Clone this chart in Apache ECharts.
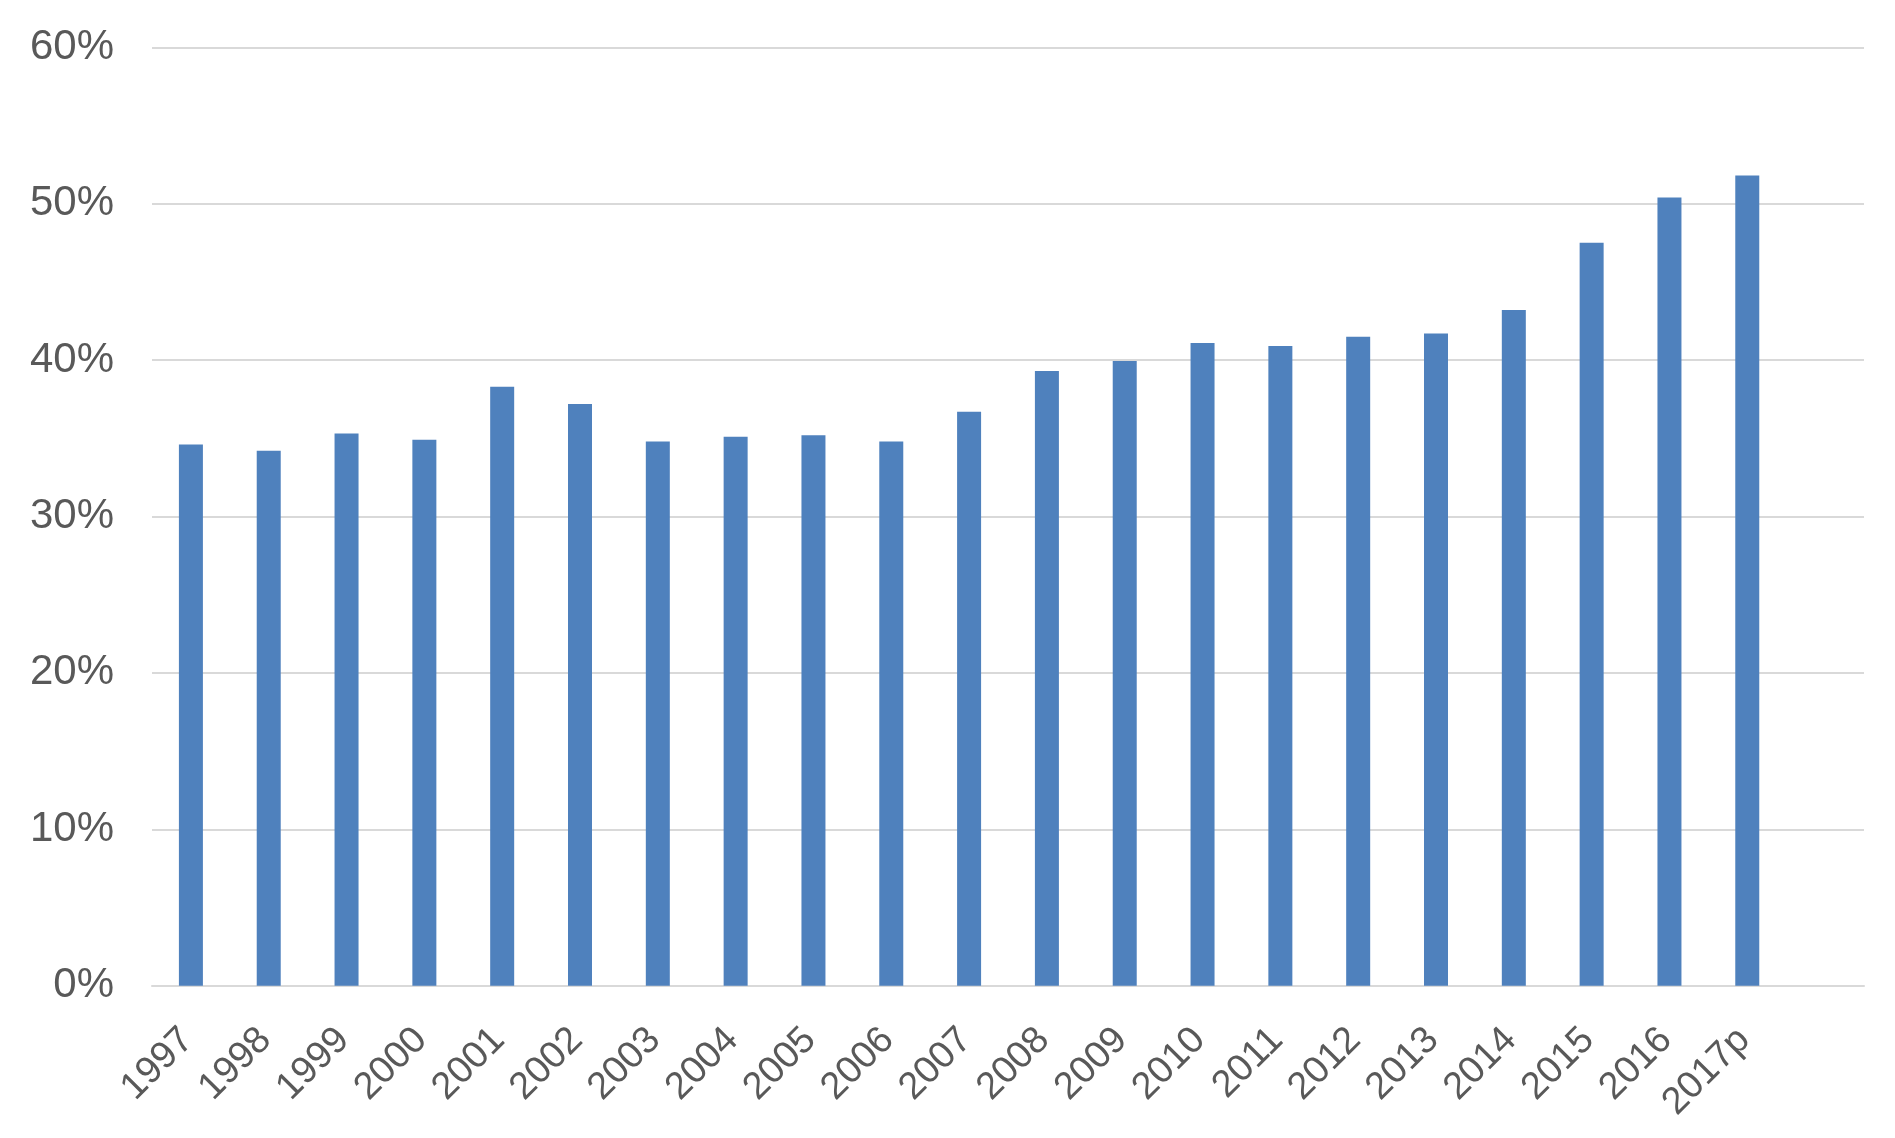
<!DOCTYPE html>
<html>
<head>
<meta charset="utf-8">
<script src="https://cdn.jsdelivr.net/npm/echarts@6/dist/echarts.min.js"></script>
<style>
html,body{margin:0;padding:0;background:#fff;}
#chart{width:1895px;height:1138px;}
</style>
</head>
<body>
<div id="chart"></div>
<script>
const years = ['1997','1998','1999','2000','2001','2002','2003','2004','2005','2006','2007','2008','2009','2010','2011','2012','2013','2014','2015','2016','2017p'];
const shares = [34.6, 34.2, 35.3, 34.9, 38.3, 37.2, 34.8, 35.1, 35.2, 34.8, 36.7, 39.3, 39.95, 41.1, 40.9, 41.5, 41.7, 43.2, 47.5, 50.4, 51.8];
const yTicks = [0, 10, 20, 30, 40, 50, 60];

// one empty trailing slot, as in the reference
const categories = years.concat(['']);

const chart = echarts.init(document.getElementById('chart'), null, {renderer: 'canvas'});
chart.setOption({
  backgroundColor: '#ffffff',
  animation: false,
  grid: {left: 152, right: 31, top: 47.3, bottom: 152.3, containLabel: false},
  xAxis: {
    type: 'category',
    data: categories,
    boundaryGap: true,
    axisLine: {show: true, lineStyle: {color: '#d9d9d9', width: 2}},
    axisTick: {show: false},
    axisLabel: {
      rotate: 45,
      interval: 0,
      margin: 45,
      align: 'right',
      verticalAlign: 'middle',
      padding: [0, 4.7, 9.5, 0],
      color: '#595959',
      fontFamily: 'Liberation Sans, Arial, sans-serif',
      fontSize: 38
    }
  },
  yAxis: {
    type: 'value',
    min: yTicks[0],
    max: yTicks[yTicks.length - 1],
    interval: 10,
    axisLine: {show: false},
    axisTick: {show: false},
    splitLine: {show: true, lineStyle: {color: '#d9d9d9', width: 2}},
    axisLabel: {
      formatter: '{value}%',
      margin: 38,
      color: '#595959',
      fontFamily: 'Liberation Sans, Arial, sans-serif',
      fontSize: 42
    }
  },
  series: [{
    type: 'bar',
    data: shares,
    barWidth: 24,
    itemStyle: {color: '#4f81bd'}
  }]
});
</script>
</body>
</html>
